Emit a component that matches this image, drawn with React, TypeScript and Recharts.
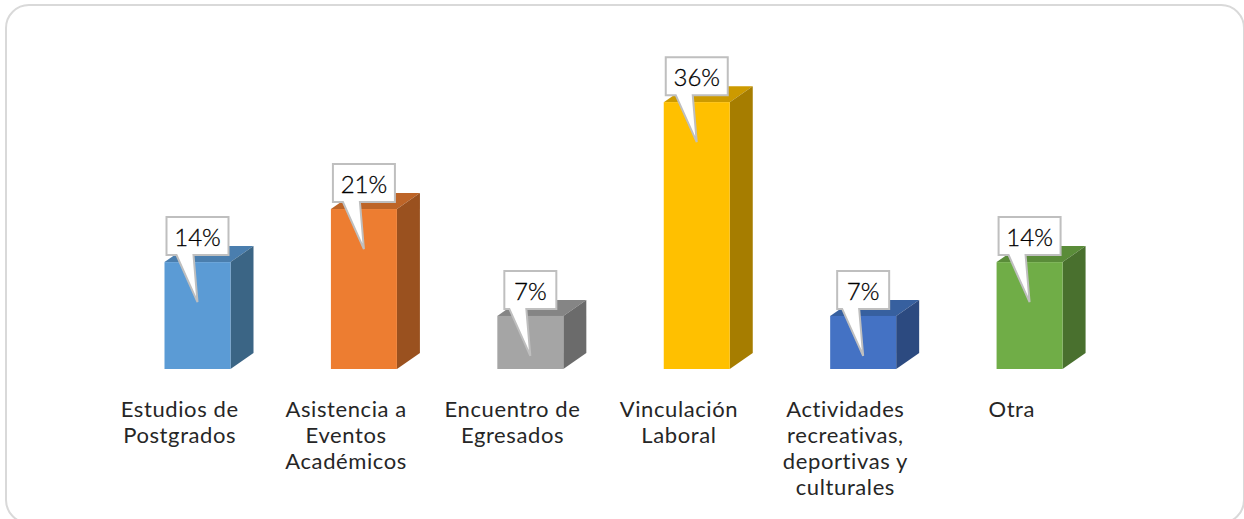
import React from "react";
import { BarChart, Bar, XAxis, YAxis, LabelList } from "recharts";

const categories = [
  "Estudios de\nPostgrados",
  "Asistencia a\nEventos\nAcadémicos",
  "Encuentro de\nEgresados",
  "Vinculación\nLaboral",
  "Actividades\nrecreativas,\ndeportivas y\nculturales",
  "Otra",
];
const percentages = [14.3, 21.4, 7.1, 35.7, 7.1, 14.3];

const frontColors = ["#5B9BD5", "#ED7D31", "#A5A5A5", "#FFC000", "#4472C4", "#70AD47"];
const topColors = ["#4A7EAE", "#BD6427", "#858585", "#CC9A00", "#37609F", "#5A8C39"];
const sideColors = ["#3B6585", "#9A511F", "#6B6B6B", "#A67D00", "#2C4A80", "#49702E"];

const chartData = categories.map((name, i) => ({ name, value: percentages[i] }));

const FONT = "Lato, 'Open Sans', sans-serif";
const DEPTH_X = 23;
const DEPTH_Y = 16;

// ─── 3D bar ───────────────────────────────────────────────────────────────────
const Bar3D = (props: any) => {
  const { x, y, width, height, index } = props;
  const r = x + width;
  const b = y + height;
  return (
    <g>
      <path
        d={`M${x},${y} L${x + DEPTH_X},${y - DEPTH_Y} L${r + DEPTH_X},${y - DEPTH_Y} L${r},${y} Z`}
        fill={topColors[index]}
      />
      <path
        d={`M${r},${y} L${r + DEPTH_X},${y - DEPTH_Y} L${r + DEPTH_X},${b - DEPTH_Y} L${r},${b} Z`}
        fill={sideColors[index]}
      />
      <rect x={x} y={y} width={width} height={height} fill={frontColors[index]} />
    </g>
  );
};

// ─── Callout label ────────────────────────────────────────────────────────────
const Callout = (props: any) => {
  const { x, y, width, value } = props;
  const text = `${Math.round(value)}%`;
  const cx = x + width / 2;
  const half = text.length > 2 ? 31 : 26;
  const top = y - 45;
  const bottom = y - 7;
  const d = [
    `M${cx - half},${top}`,
    `L${cx + half},${top}`,
    `L${cx + half},${bottom}`,
    `L${cx - 4},${bottom}`,
    `L${cx},${y + 40}`,
    `L${cx - 21},${bottom}`,
    `L${cx - half},${bottom}`,
    "Z",
  ].join(" ");
  return (
    <g>
      <path d={d} fill="#FFFFFF" stroke="#BFBFBF" strokeWidth={2} strokeLinejoin="miter" />
      <text
        x={cx}
        y={top + 29}
        textAnchor="middle"
        fontFamily={FONT}
        fontWeight={300}
        fontSize={24}
        stroke="#000000"
        strokeWidth={0.3}
        fill="#000000"
      >
        {text}
      </text>
    </g>
  );
};

// ─── Category tick ────────────────────────────────────────────────────────────
const CategoryTick = (props: any) => {
  const { x, payload } = props;
  const lines = String(payload.value).split("\n");
  return (
    <text
      textAnchor="middle"
      fontFamily={FONT}
      fontSize={22}
      letterSpacing={0.6}
      fill="#262626"
    >
      {lines.map((line, i) => (
        <tspan key={line} x={x - 18} y={417 + i * 26}>
          {line}
        </tspan>
      ))}
    </text>
  );
};

export default function App() {
  return (
    <div
      style={{
        position: "absolute",
        left: 0,
        top: 0,
        width: 1244,
        height: 519,
        overflow: "hidden",
        background: "#FFFFFF",
      }}
    >
      <div
        style={{
          position: "absolute",
          left: 5,
          top: 4,
          width: 1236,
          height: 516,
          border: "2px solid #D9D9D9",
          borderRadius: 24,
        }}
      />
      <div style={{ position: "absolute", left: 0, top: 0 }}>
        <BarChart
          width={1244}
          height={519}
          data={chartData}
          barSize={66}
          margin={{ top: 70, right: 131, bottom: 10, left: 114.5 }}
        >
          <YAxis hide domain={[0, 40]} />
          <XAxis
            dataKey="name"
            height={140}
            axisLine={false}
            tickLine={false}
            interval={0}
            tick={<CategoryTick />}
          />
          <Bar dataKey="value" isAnimationActive={false} shape={<Bar3D />}>
            <LabelList dataKey="value" content={<Callout />} />
          </Bar>
        </BarChart>
      </div>
    </div>
  );
}
